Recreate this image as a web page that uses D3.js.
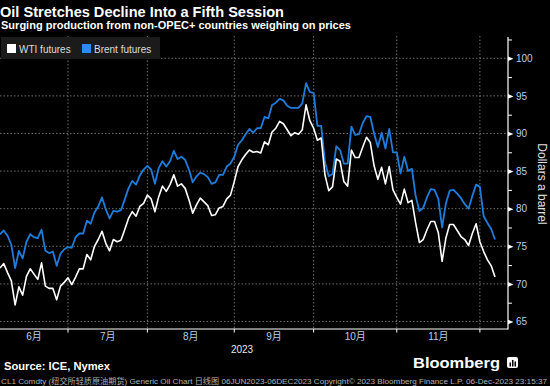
<!DOCTYPE html>
<html>
<head>
<meta charset="utf-8">
<script src="https://cdn.jsdelivr.net/npm/d3@7"></script>
<style>
  body { margin: 0; background: #000; }
  svg { display: block; font-family: "Liberation Sans", Arial, "Noto Sans CJK SC", sans-serif; }
</style>
</head>
<body>
<svg id="chart" width="550" height="386"></svg>
<script>
// Data (daily closes, weekdays 06 Jun - 06 Dec 2023)
const startDay = new Date(2023, 5, 6), endDay = new Date(2023, 11, 7);
const monthLabels = ["6月", "7月", "8月", "9月", "10月", "11月"];
const yTicks = [65, 70, 75, 80, 85, 90, 95, 100];
const yMinorTicks = [67.5, 72.5, 77.5, 82.5, 87.5, 92.5, 97.5, 102.5];

const wti = [
  72.1, 72.7, 71.5, 70.4, 67.2, 69.6, 68.5, 71.0, 72.0, 71.3,
  70.6, 72.8, 69.7, 69.4, 69.4, 67.9, 69.7, 70.2, 70.8, 69.9,
  70.9, 72.0, 72.0, 73.9, 73.2, 75.0, 75.9, 77.0, 75.4, 74.4,
  75.9, 75.6, 75.8, 77.2, 78.7, 79.6, 79.0, 80.3, 80.7, 81.8,
  81.3, 79.6, 81.6, 83.0, 82.3, 83.2, 84.5, 83.0, 83.3, 82.7,
  81.2, 79.4, 80.5, 81.4, 80.9, 80.4, 79.1, 79.2, 80.1, 80.3,
  81.3, 81.8, 83.6, 85.6, 86.5, 87.2, 87.8, 87.5, 87.6, 87.4,
  88.9, 88.5, 90.2, 90.7, 91.6, 91.3, 90.5, 89.7, 90.1, 89.9,
  90.5, 93.8, 91.7, 90.7, 89.1, 89.4, 84.5, 82.4, 82.9, 86.6,
  86.3, 83.6, 83.0, 87.8, 86.8, 86.8, 88.2, 89.5, 88.8, 85.7,
  83.9, 85.5, 83.3, 85.6, 82.5, 81.5, 80.6, 82.6, 80.8, 81.1,
  78.1, 75.5, 75.9, 77.2, 78.3, 78.3, 76.8, 73.0, 76.1, 77.9,
  77.9, 77.1, 76.3, 75.9, 75.1, 76.7, 78.0, 75.6, 74.3, 73.2,
  72.4, 70.9
];

const brent = [
  76.6, 77.1, 76.4, 75.2, 72.1, 74.4, 73.4, 75.6, 76.6, 76.2,
  76.1, 77.2, 74.4, 74.1, 74.3, 72.4, 74.0, 74.6, 74.9, 74.8,
  76.2, 76.7, 76.7, 78.4, 78.0, 79.5, 80.3, 81.5, 79.9, 78.7,
  79.7, 79.6, 79.8, 81.2, 82.7, 83.7, 83.2, 84.4, 85.2, 85.7,
  85.2, 83.3, 85.4, 86.3, 85.6, 86.3, 87.7, 86.6, 86.9, 86.5,
  85.2, 83.5, 84.3, 84.8, 84.6, 84.2, 83.3, 83.5, 84.5, 84.5,
  85.6, 86.0, 86.9, 88.5, 89.1, 89.9, 90.6, 90.1, 90.7, 90.7,
  92.2, 92.0, 93.8, 94.1, 94.6, 94.4, 93.7, 93.4, 93.4, 93.4,
  94.0, 96.7, 95.5, 95.4, 91.0, 91.0, 86.2, 84.3, 84.6, 88.3,
  87.8, 86.0, 86.0, 90.9, 89.8, 89.9, 91.4, 92.3, 92.2, 90.0,
  88.2, 90.1, 88.0, 90.6, 87.5, 87.5, 84.7, 86.9, 85.0, 85.3,
  81.7, 79.7, 80.1, 81.5, 82.6, 82.5, 81.3, 77.5, 80.7, 82.4,
  82.5, 82.0, 81.4, 80.6, 80.0, 81.7, 83.2, 82.9, 79.0, 78.1,
  77.3, 75.9
];

const seriesNames = ["WTI futures", "Brent futures"];
const seriesColors = ["#ffffff", "#1e7ddb"];

const svg = d3.select("#chart");
const plotLeft = 0, plotRight = 508, plotTop = 37, plotBottom = 329;

// trading days (weekdays only) -> index based x axis like the Bloomberg chart
const days = d3.timeDay.range(startDay, endDay).filter(d => d.getDay() % 6 !== 0);

const x = d3.scaleLinear().domain([0, days.length - 1]).range([0, 495]);
const y = d3.scaleLinear().domain([64, 102.83]).range([plotBottom, plotTop]);

// last trading day of every month = gridline position
const monthEnds = [];
days.forEach((d, i) => {
  if (i < days.length - 1 && days[i + 1].getMonth() !== d.getMonth()) monthEnds.push(i);
});

svg.append("rect").attr("width", 550).attr("height", 386).attr("fill", "#000");

// horizontal grid
svg.append("g")
  .selectAll("line")
  .data(yTicks)
  .join("line")
  .attr("x1", plotLeft).attr("x2", plotRight)
  .attr("y1", d => y(d)).attr("y2", d => y(d))
  .attr("stroke", "#6e6e6e").attr("stroke-dasharray", "1.5,2");

// vertical grid at month boundaries
svg.append("g")
  .selectAll("line")
  .data(monthEnds)
  .join("line")
  .attr("x1", d => x(d)).attr("x2", d => x(d))
  .attr("y1", plotTop - 1).attr("y2", plotBottom)
  .attr("stroke", "#6e6e6e").attr("stroke-dasharray", "1.5,2");

// legend
const legend = svg.append("g");
legend.append("rect").attr("x", 1).attr("y", 37).attr("width", 159).attr("height", 22).attr("fill", "#1b1b1b");
const legendX = [7, 82];
seriesNames.forEach((name, i) => {
  legend.append("rect").attr("x", legendX[i]).attr("y", 44).attr("width", 9).attr("height", 9)
    .attr("fill", i === 0 ? "#ffffff" : "#2b8cf0");
  legend.append("text").attr("x", legendX[i] + 12).attr("y", 52.5)
    .attr("fill", "#dcdcdc").attr("font-size", 10).text(name);
});

// lines
svg.append("clipPath").attr("id", "plotclip")
  .append("rect").attr("x", plotLeft).attr("y", plotTop).attr("width", plotRight - plotLeft).attr("height", plotBottom - plotTop);

const line = d3.line().x((d, i) => x(i)).y(d => y(d));
const lines = svg.append("g").attr("clip-path", "url(#plotclip)");
lines.append("path").datum(brent).attr("d", line)
  .attr("fill", "none").attr("stroke", seriesColors[1]).attr("stroke-width", 1.8).attr("stroke-linejoin", "round");
lines.append("path").datum(wti).attr("d", line)
  .attr("fill", "none").attr("stroke", seriesColors[0]).attr("stroke-width", 1.6).attr("stroke-linejoin", "round");

// x axis
svg.append("line").attr("x1", plotLeft).attr("x2", plotRight).attr("y1", plotBottom).attr("y2", plotBottom)
  .attr("stroke", "#fff").attr("stroke-width", 1.2);
svg.append("g")
  .selectAll("line")
  .data(monthEnds)
  .join("line")
  .attr("x1", d => x(d)).attr("x2", d => x(d))
  .attr("y1", plotBottom).attr("y2", plotBottom + 3.5)
  .attr("stroke", "#fff");

const edges = [plotLeft, ...monthEnds.map(d => x(d))];
svg.append("g")
  .selectAll("text")
  .data(monthLabels)
  .join("text")
  .attr("x", (d, i) => (edges[i] + edges[i + 1]) / 2)
  .attr("y", 340)
  .attr("text-anchor", "middle")
  .attr("fill", "#b9cde6").attr("font-size", 10)
  .text(d => d);
svg.append("text").attr("x", 242).attr("y", 352.5).attr("text-anchor", "middle")
  .attr("fill", "#e6e6e6").attr("font-size", 10).text("2023");

// y axis
const yAxis = svg.append("g").attr("transform", `translate(${plotRight},0)`)
  .call(d3.axisRight(y).tickValues(yTicks).tickSize(0).tickPadding(8));
yAxis.select(".domain").remove();
yAxis.selectAll("text").attr("fill", "#b9cde6").attr("font-size", 10)
  .attr("font-family", "\"Liberation Sans\", Arial, sans-serif");
yAxis.selectAll(".tick").append("path").attr("d", "M0,-2.3L5.5,0L0,2.3Z").attr("fill", "#fff");

const yMinor = svg.append("g").attr("transform", `translate(${plotRight},0)`)
  .call(d3.axisRight(y).tickValues(yMinorTicks).tickSize(4).tickFormat(""));
yMinor.select(".domain").remove();
yMinor.selectAll("line").attr("stroke", "#fff");

svg.append("line").attr("x1", plotRight).attr("x2", plotRight).attr("y1", plotTop).attr("y2", plotBottom + 0.6)
  .attr("stroke", "#fff").attr("stroke-width", 1.2);

svg.append("text").attr("transform", "translate(537.5,184) rotate(90)")
  .attr("text-anchor", "middle").attr("fill", "#e0e0e0").attr("font-size", 12)
  .text("Dollars a barrel");

// titles
svg.append("text").attr("x", 0).attr("y", 16.5).attr("fill", "#fff")
  .attr("font-size", 15.5).attr("font-weight", "bold")
  .attr("textLength", 284).attr("lengthAdjust", "spacingAndGlyphs")
  .text("Oil Stretches Decline Into a Fifth Session");
svg.append("text").attr("x", 1).attr("y", 28.5).attr("fill", "#fff")
  .attr("font-size", 10.5).attr("font-weight", "bold")
  .attr("textLength", 350).attr("lengthAdjust", "spacingAndGlyphs")
  .text("Surging production from non-OPEC+ countries weighing on prices");

// footer
svg.append("text").attr("x", 4).attr("y", 369.5).attr("fill", "#fff")
  .attr("font-size", 10).attr("font-weight", "bold")
  .attr("textLength", 106).attr("lengthAdjust", "spacingAndGlyphs")
  .text("Source: ICE, Nymex");
svg.append("text").attr("x", 413).attr("y", 367.5).attr("fill", "#fff")
  .attr("font-size", 15).attr("font-weight", "bold")
  .attr("textLength", 87).attr("lengthAdjust", "spacingAndGlyphs")
  .text("Bloomberg");
const logo = svg.append("g").attr("transform", "translate(507,357)");
logo.append("rect").attr("width", 11).attr("height", 11).attr("rx", 2).attr("fill", "#fff");
[[2.5, 5.5, 4], [5, 3, 6.5], [7.5, 4.5, 5]].forEach(b => {
  logo.append("rect").attr("x", b[0]).attr("y", b[1]).attr("width", 1.5).attr("height", b[2]).attr("fill", "#000");
});
svg.append("text").attr("x", 1).attr("y", 384).attr("fill", "#b0b0b0")
  .attr("font-size", 7.5)
  .attr("textLength", 546).attr("lengthAdjust", "spacingAndGlyphs")
  .text("CL1 Comdty (纽交所轻质原油期货) Generic Oil Chart   日线图 06JUN2023-06DEC2023   Copyright© 2023 Bloomberg Finance L.P.   06-Dec-2023 23:15:37");
</script>
</body>
</html>
